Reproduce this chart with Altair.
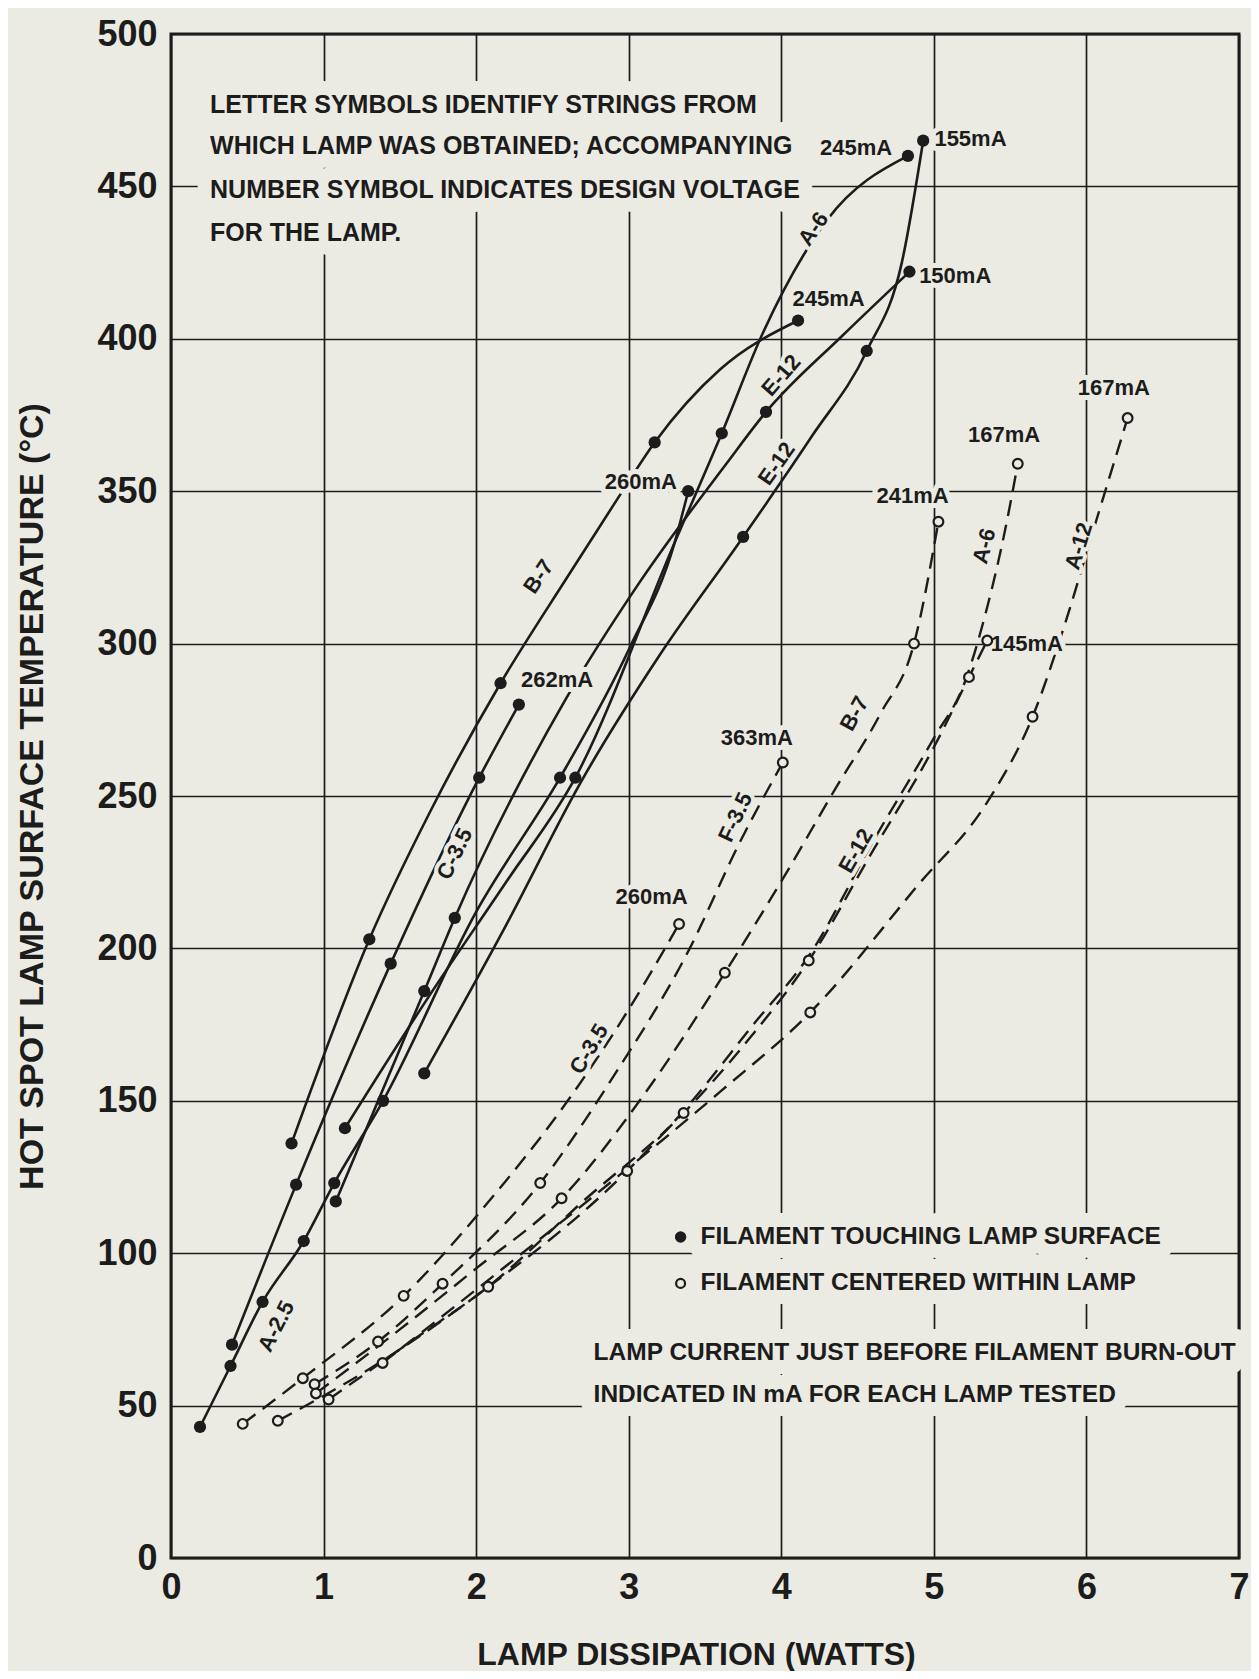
import altair as alt
import pandas as pd

BG = "#ECEBE3"
INK = "#1C1C1C"
FONT = "Liberation Sans, Arial, sans-serif"

# ---------- Filament touching lamp surface (solid lines, filled dots) ----------
solid_names = ["A-2.5", "A-6", "B-7", "C-3.5", "E-12 a", "E-12 b"]
solid_x = [
    [0.19, 0.39, 0.60, 0.87, 1.07, 1.39, 2.00, 2.55, 3.00, 3.30, 3.39],
    [1.14, 1.70, 2.20, 2.65, 3.30, 3.61, 3.88, 4.30, 4.83],
    [0.79, 1.30, 1.70, 2.16, 2.60, 2.92, 3.17, 3.60, 4.11],
    [0.40, 0.82, 1.44, 2.02, 2.28],
    [1.08, 1.66, 1.86, 2.59, 3.07, 3.64, 3.90, 4.40, 4.84],
    [1.66, 2.20, 2.68, 3.20, 3.75, 4.20, 4.56, 4.79, 4.93],
]
solid_y = [
    [43, 63, 84, 104, 123, 150, 212, 256, 298, 333, 350],
    [141, 185, 222, 256, 333, 369, 402, 439, 460],
    [136, 203, 245, 287, 322, 347, 366, 390, 406],
    [70, 122.5, 195, 256, 280],
    [117, 186, 210, 282, 320, 359, 376, 401, 422],
    [159, 208, 254, 296, 335, 368, 396, 425, 465],
]
solid_m = [
    [1, 1, 1, 1, 1, 1, 0, 1, 0, 0, 1],
    [1, 0, 0, 1, 0, 1, 0, 0, 1],
    [1, 1, 0, 1, 0, 0, 1, 0, 1],
    [1, 1, 1, 1, 1],
    [1, 1, 1, 0, 0, 0, 1, 0, 1],
    [1, 0, 0, 0, 1, 0, 1, 0, 1],
]

# ---------- Filament centered within lamp (dashed lines, open dots) ----------
dashed_names = ["C-3.5 d", "F-3.5 d", "B-7 d", "E-12 d", "A-6 d", "A-12 d"]
dashed_x = [
    [0.47, 0.864, 1.525, 2.10, 2.60, 3.00, 3.33],
    [0.941, 1.357, 1.78, 2.42, 2.90, 3.40, 3.72, 4.01],
    [0.95, 1.50, 2.00, 2.56, 3.10, 3.63, 4.00, 4.35, 4.65, 4.87, 5.03],
    [1.033, 1.60, 2.079, 2.70, 3.36, 3.80, 4.18, 4.60, 5.00, 5.23, 5.35],
    [0.70, 1.30, 2.00, 2.99, 3.40, 3.80, 4.20, 4.60, 5.00, 5.20, 5.35, 5.47, 5.55],
    [1.387, 2.10, 2.90, 3.60, 4.19, 4.90, 5.35, 5.647, 5.85, 6.05, 6.27],
]
dashed_y = [
    [44, 59, 86, 118, 150, 180, 208],
    [57, 71, 90, 123, 158, 200, 234, 261],
    [54, 75, 95, 118, 152, 192, 222, 252, 277, 300, 340],
    [52, 72, 89, 117, 146, 171, 196, 232, 266, 289, 301],
    [45, 62, 86, 127, 149, 174, 199, 235, 269, 287, 312, 338, 359],
    [64, 92, 124, 153, 179, 221, 248, 276, 305, 338, 374],
]
dashed_m = [
    [1, 1, 1, 0, 0, 0, 1],
    [1, 1, 1, 1, 0, 0, 0, 1],
    [1, 0, 0, 1, 0, 1, 0, 0, 0, 1, 1],
    [1, 0, 1, 0, 1, 0, 1, 0, 0, 1, 1],
    [1, 0, 0, 1, 0, 0, 0, 0, 0, 0, 0, 0, 1],
    [1, 0, 0, 0, 1, 0, 0, 1, 0, 0, 1],
]

# ---------- Labels ----------
curve_label_text = ["A-2.5", "C-3.5", "B-7", "A-6", "E-12", "E-12",
                    "C-3.5", "F-3.5", "B-7", "E-12", "A-6", "A-12"]
curve_label_x = [0.69, 1.86, 2.41, 4.21, 4.00, 3.97, 2.74, 3.70, 4.48, 4.49, 5.33, 5.95]
curve_label_y = [76, 231, 322, 436, 388, 359, 167, 243, 277, 232, 332, 332]
curve_label_angle = [297, 296, 304, 305, 311, 305, 301, 295, 299, 300, 285, 287]

ma_text = ["245mA", "155mA", "150mA", "245mA", "260mA", "262mA",
           "363mA", "260mA", "241mA", "167mA", "167mA", "145mA"]
ma_x = [4.49, 5.24, 5.14, 4.31, 3.08, 2.53, 3.84, 3.15, 4.86, 5.46, 6.18, 5.61]
ma_y = [462.5, 465.5, 420.5, 413, 353, 288, 269, 217, 348.5, 368.5, 384, 300]

note_text = [
    "LETTER SYMBOLS IDENTIFY STRINGS FROM",
    "WHICH LAMP WAS OBTAINED; ACCOMPANYING",
    "NUMBER SYMBOL INDICATES DESIGN VOLTAGE",
    "FOR THE LAMP.",
    "FILAMENT TOUCHING LAMP SURFACE",
    "FILAMENT CENTERED WITHIN LAMP",
    "LAMP CURRENT JUST BEFORE FILAMENT BURN-OUT",
    "INDICATED IN mA FOR EACH LAMP TESTED",
]
note_x = [0.256, 0.256, 0.256, 0.256, 3.47, 3.47, 2.77, 2.77]
note_y = [476.7, 463.1, 448.9, 434.7, 105.3, 90.1, 67.2, 53.4]
note_size = [25, 25, 25, 25, 24.5, 24.5, 24.5, 24.5]

key_x = [3.34, 3.34]
key_y = [105.3, 90.1]
key_filled = [1, 0]

# ---------- Tables ----------
rows = []
for name, xs, ys, ms in zip(solid_names, solid_x, solid_y, solid_m):
    for i, (x, y, m) in enumerate(zip(xs, ys, ms)):
        rows.append(dict(curve=name, style="solid", order=i, x=x, y=y, m=m))
for name, xs, ys, ms in zip(dashed_names, dashed_x, dashed_y, dashed_m):
    for i, (x, y, m) in enumerate(zip(xs, ys, ms)):
        rows.append(dict(curve=name, style="dashed", order=i, x=x, y=y, m=m))
df = pd.DataFrame(rows)

key_df = pd.DataFrame(dict(x=key_x, y=key_y, f=key_filled))
lab_df = pd.DataFrame(dict(x=curve_label_x, y=curve_label_y, text=curve_label_text, angle=curve_label_angle))
ma_df = pd.DataFrame(dict(x=ma_x, y=ma_y, text=ma_text))
note_df = pd.DataFrame(dict(x=note_x, y=note_y, text=note_text, size=note_size))

W_PLOT = 1068
H_PLOT = 1524

X = alt.X("x:Q", scale=alt.Scale(domain=[0, 7], nice=False, zero=False),
          axis=alt.Axis(values=list(range(0, 8)), title="LAMP DISSIPATION (WATTS)",
                        labelPadding=12, labelFlush=False, labelOverlap=False,
                        titleX=525, titleY=96, titleBaseline="middle", titleFontSize=32))
Y = alt.Y("y:Q", scale=alt.Scale(domain=[0, 500], nice=False, zero=False),
          axis=alt.Axis(values=list(range(0, 501, 50)), title="HOT SPOT LAMP SURFACE TEMPERATURE (°C)",
                        labelPadding=14, labelFlush=False, labelOverlap=False,
                        titleX=-139, titleY=762, titleAngle=270, titleAlign="center",
                        titleBaseline="middle", titleFontSize=34))

base = alt.Chart(df)
solid = base.transform_filter(alt.datum.style == "solid").mark_line(
    interpolate="monotone", color=INK, strokeWidth=2.6
).encode(x=X, y=Y, detail="curve:N", order="order:Q")
dashed = base.transform_filter(alt.datum.style == "dashed").mark_line(
    interpolate="monotone", color=INK, strokeWidth=2.4, strokeDash=[16, 9]
).encode(x=X, y=Y, detail="curve:N", order="order:Q")

filled_pts = base.transform_filter((alt.datum.style == "solid") & (alt.datum.m == 1)).mark_circle(
    size=150, color=INK, opacity=1).encode(x=X, y=Y)
open_pts = base.transform_filter((alt.datum.style == "dashed") & (alt.datum.m == 1)).mark_circle(
    size=95, fill=BG, stroke=INK, strokeWidth=2.2, opacity=1).encode(x=X, y=Y)

key_filled_l = alt.Chart(key_df).transform_filter(alt.datum.f == 1).mark_circle(
    size=130, color=INK, opacity=1).encode(x=X, y=Y)
key_open_l = alt.Chart(key_df).transform_filter(alt.datum.f == 0).mark_circle(
    size=80, fill=BG, stroke=INK, strokeWidth=2.2, opacity=1).encode(x=X, y=Y)


def text_pair(data, size, align, halo, rotated=False, size_field=False):
    enc = dict(x=X, y=Y, text="text:N")
    if rotated:
        enc["angle"] = alt.Angle("angle:Q", scale=None)
    common = dict(font=FONT, fontWeight="bold", align=align, baseline="middle")
    if size_field:
        enc["size"] = alt.Size("size:Q", scale=None, legend=None)
    else:
        common["fontSize"] = size
    h = alt.Chart(data).mark_text(color=BG, stroke=BG, strokeWidth=halo, strokeJoin="round", **common).encode(**enc)
    t = alt.Chart(data).mark_text(color=INK, **common).encode(**enc)
    return h, t


lab_h, lab_t = text_pair(lab_df, 22, "center", 8, rotated=True)
ma_h, ma_t = text_pair(ma_df, 22, "center", 10)
note_h, note_t = text_pair(note_df, 25, "left", 28, size_field=True)

chart = alt.layer(
    solid, dashed, lab_h, ma_h, note_h,
    filled_pts, open_pts, key_filled_l, key_open_l,
    lab_t, ma_t, note_t,
).properties(
    width=W_PLOT, height=H_PLOT,
    autosize=alt.AutoSizeParams(type="none"),
    padding={"left": 163, "top": 26, "right": 12, "bottom": 113},
    background=BG,
).configure_view(
    stroke=INK, strokeWidth=3
).configure_axis(
    grid=True, gridColor=INK, gridWidth=1.7, gridOpacity=1,
    domain=False, ticks=False,
    labelFont=FONT, labelFontSize=36, labelFontWeight="bold", labelColor=INK,
    titleFont=FONT, titleFontWeight="bold", titleColor=INK,
)

chart.save("out.html", embed_options={"renderer": "svg", "actions": False})
